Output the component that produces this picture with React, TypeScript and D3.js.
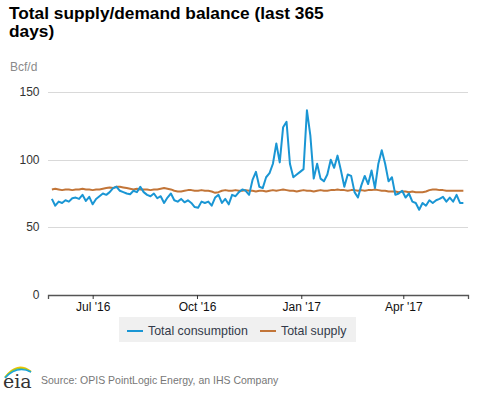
import React, { useEffect, useRef } from 'react';
import * as d3 from 'd3';

// readings are every 3 days starting 26 May 2016
const START_DATE = new Date(2016, 4, 26);
const STEP_DAYS = 3;

const consumption = [
  71, 66, 69, 68, 70, 69, 71.5, 72, 71, 74,
  69.5, 72.5, 67, 71, 73, 75, 74, 76, 79, 80,
  77, 76, 75, 74.5, 77, 76, 80, 76, 74, 73,
  75, 71.5, 73, 68, 72, 75, 70, 69, 71, 68.5,
  70, 68, 65, 64.5, 69, 68, 69, 66, 72, 74,
  68, 71, 67, 74, 73, 76, 78, 77, 74, 85,
  91, 80, 79, 87, 90, 97, 112, 98, 124, 128,
  97, 87, 89, 91, 93, 136.5, 118, 86, 97, 86,
  84, 89, 100, 94, 103, 92, 80, 89, 88, 76,
  72, 81, 88, 82, 92, 79, 97, 107, 97, 84,
  87, 74, 75, 77, 72, 75, 69, 68, 63, 68,
  66, 70, 68, 70, 71, 72.5, 69, 72, 69, 74,
  68, 68,
];

const supply = [
  78, 78.5, 78, 77.5, 78, 78, 77.5, 78, 78, 78.5,
  78, 78, 77.5, 78, 78, 78.5, 79, 79.5, 79, 80,
  80, 79.5, 79, 78.5, 78, 78.5, 78, 78, 78, 77.5,
  78, 78, 78.5, 79, 78.5, 78, 77, 76.5, 76.5, 77,
  77.5, 77.5, 77, 77, 77.5, 77, 77, 76.5, 75.5, 76,
  77, 77.5, 77, 77, 77.5, 77, 77, 77.5, 77, 77,
  76.5, 77, 77, 76.5, 77, 77.5, 77, 77.5, 78, 77.5,
  77, 77, 76.5, 77, 77.5, 77, 77, 76.5, 77, 77.5,
  77, 77, 77.5, 77.5, 78, 77.5, 77.5, 77, 77.5, 77.5,
  77, 77.5, 77, 77.5, 77.5, 78, 77.5, 77, 77, 76.5,
  76.5, 76.5, 76, 76.5, 76.5, 76, 76.5, 76, 76, 76,
  76.5, 77.5, 78, 78, 77.5, 77.5, 77, 77, 77, 77,
  77, 77,
];

const yTicks = [0, 50, 100, 150];
const seriesNames = ['Total consumption', 'Total supply'];
const seriesColors = ['#1a96d4', '#c27538'];

const FONT = '"Liberation Sans", Arial, Helvetica, sans-serif';

const dateAt = (i: number) => d3.timeDay.offset(START_DATE, i * STEP_DAYS);

const App: React.FC = () => {
  const svgRef = useRef<SVGSVGElement>(null);

  useEffect(() => {
    if (!svgRef.current) return;
    const svg = d3.select(svgRef.current);
    svg.selectAll('*').remove();

    const width = 477;
    const height = 393;
    const plot = { left: 48, right: 468, top: 92, bottom: 295 };

    const x = d3.scaleTime()
      .domain([new Date(2016, 4, 22, 14), new Date(2017, 4, 28, 2)])
      .range([plot.left, plot.right]);

    const y = d3.scaleLinear()
      .domain([0, 150])
      .range([plot.bottom, plot.top]);

    svg.append('rect')
      .attr('width', width)
      .attr('height', height)
      .attr('fill', '#fff');

    // Title
    const title = svg.append('text')
      .style('font-family', FONT)
      .style('font-size', '17.3px')
      .style('font-weight', 'bold')
      .style('fill', '#000');
    title.append('tspan').attr('x', 9).attr('y', 18.5).text('Total supply/demand balance (last 365');
    title.append('tspan').attr('x', 9).attr('y', 36.5).text('days)');

    svg.append('text')
      .attr('x', 10)
      .attr('y', 70.5)
      .style('font-family', FONT)
      .style('font-size', '12px')
      .style('fill', '#8a8a8a')
      .text('Bcf/d');

    // Grid lines + y labels
    const yAxis = svg.append('g');
    yTicks.filter(t => t > 0).forEach(t => {
      yAxis.append('line')
        .attr('x1', plot.left)
        .attr('x2', plot.right)
        .attr('y1', Math.round(y(t)) + 0.5)
        .attr('y2', Math.round(y(t)) + 0.5)
        .attr('stroke', '#d9d9d9')
        .attr('stroke-width', 1.2);
    });
    yTicks.forEach(t => {
      yAxis.append('text')
        .attr('x', 39.5)
        .attr('y', y(t) + 4)
        .attr('text-anchor', 'end')
        .style('font-family', FONT)
        .style('font-size', '12px')
        .style('fill', '#333')
        .text(t);
    });

    // X axis
    const xAxis = svg.append('g')
      .attr('transform', `translate(0,${plot.bottom})`)
      .call(d3.axisBottom(x)
        .ticks(d3.timeMonth.every(3))
        .tickSize(4)
        .tickPadding(3)
        .tickFormat(d => d3.timeFormat("%b '%y")(d as Date)));
    xAxis.select('.domain').attr('stroke', '#555').attr('stroke-width', 1.3);
    xAxis.selectAll('.tick line').attr('stroke', '#333');
    xAxis.selectAll('.tick text')
      .style('font-family', FONT)
      .style('font-size', '12px')
      .style('fill', '#111');

    // Lines
    const line = d3.line<number>()
      .x((_, i) => x(dateAt(i)))
      .y(d => y(d))
      .curve(d3.curveLinear);

    svg.append('path')
      .datum(supply)
      .attr('fill', 'none')
      .attr('stroke', seriesColors[1])
      .attr('stroke-width', 2)
      .attr('stroke-linejoin', 'round')
      .attr('d', line);

    svg.append('path')
      .datum(consumption)
      .attr('fill', 'none')
      .attr('stroke', seriesColors[0])
      .attr('stroke-width', 2)
      .attr('stroke-linejoin', 'round')
      .attr('d', line);

    // Legend
    const legend = svg.append('g');
    legend.append('rect')
      .attr('x', 119)
      .attr('y', 317)
      .attr('width', 237)
      .attr('height', 25)
      .attr('fill', '#f0f0f0');
    const legendX = [127, 260];
    seriesNames.forEach((name, i) => {
      legend.append('line')
        .attr('x1', legendX[i])
        .attr('x2', legendX[i] + 16)
        .attr('y1', 331)
        .attr('y2', 331)
        .attr('stroke', seriesColors[i])
        .attr('stroke-width', 2);
      legend.append('text')
        .attr('x', legendX[i] + 21)
        .attr('y', 335)
        .style('font-family', FONT)
        .style('font-size', '12.4px')
        .style('fill', '#333a4a')
        .text(name);
    });

    // eia logo
    const logo = svg.append('g');
    const arc = (r: number, color: string, w: number) =>
      logo.append('path')
        .attr('d', `M ${5} ${378 - r * 0.2} Q ${17} ${365 - r} ${31} ${372 - r * 0.1}`)
        .attr('fill', 'none')
        .attr('stroke', color)
        .attr('stroke-width', w);
    arc(4, '#f5c400', 1.6);
    arc(2, '#8cc63f', 1.6);
    arc(0, '#1aa3dd', 1.6);
    logo.append('text')
      .attr('x', 3)
      .attr('y', 388)
      .style('font-family', '"DejaVu Serif", "Liberation Serif", serif')
      .style('font-size', '19px')
      .style('fill', '#333')
      .text('eia');

    svg.append('text')
      .attr('x', 41)
      .attr('y', 384)
      .style('font-family', FONT)
      .style('font-size', '10.5px')
      .style('fill', '#777')
      .text('Source: OPIS PointLogic Energy, an IHS Company');
  }, []);

  return (
    <svg
      ref={svgRef}
      width={477}
      height={393}
      style={{ display: 'block', position: 'absolute', left: 0, top: 0 }}
    />
  );
};

export default App;
